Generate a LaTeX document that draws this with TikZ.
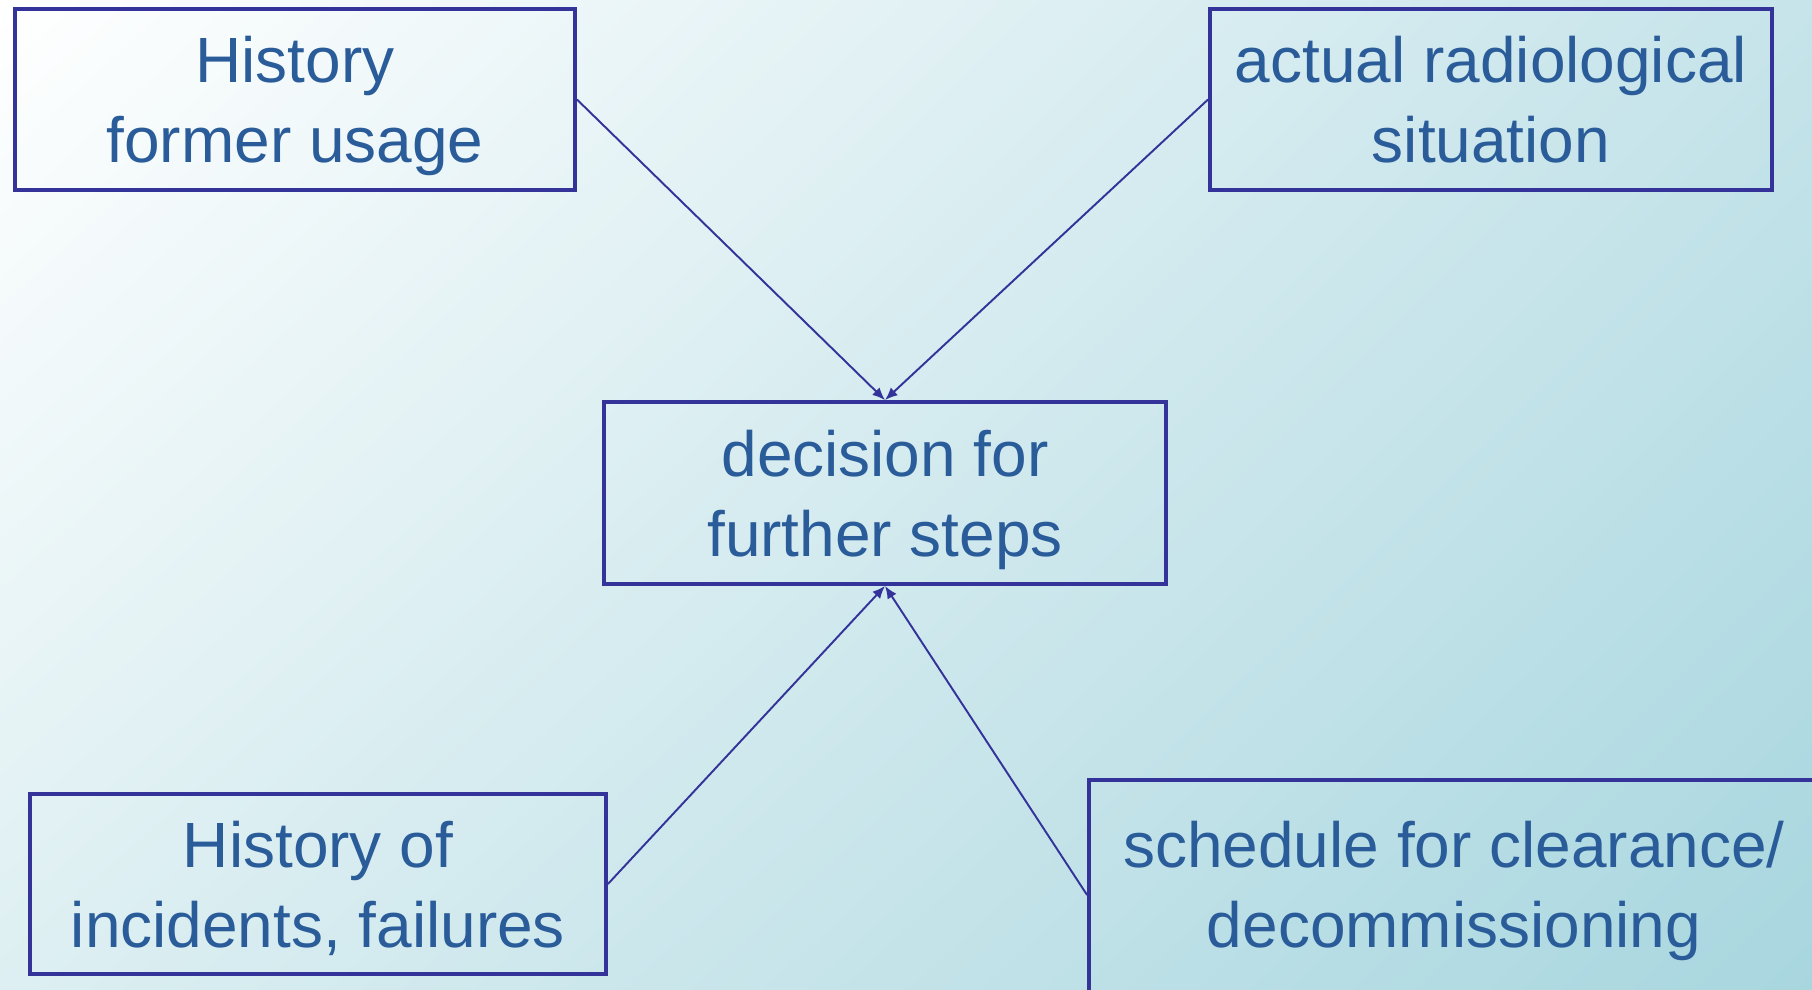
\documentclass[tikz,border=0pt]{standalone}
\usepackage{fontspec}
\setmainfont{Liberation Sans}
\usetikzlibrary{positioning}
\usetikzlibrary{arrows.meta}
\usetikzlibrary{shadings}
\definecolor{boxline}{HTML}{333399}
\definecolor{boxtext}{HTML}{2A5C9A}
\definecolor{bgUL}{HTML}{FFFFFF}
\definecolor{bgUR}{HTML}{C6E4EA}
\definecolor{bgLL}{HTML}{DDEFF2}
\definecolor{bgLR}{HTML}{A8D6DF}

\begin{document}
\begin{tikzpicture} [main/.style = {draw=boxline, line width=1.1pt, text=boxtext, align=center,
        font=\fontsize{18.2}{22.8}\selectfont, text depth=0pt, minimum width=5.6cm, minimum height=1.81cm, inner sep=0pt},
    link/.style = {draw=boxline, line width=0.55pt, -{Latex[length=3.6pt, width=3pt]}}]
        \useasboundingbox (0,0) rectangle (18.12,9.90);
        %Hintergrund
        \shade[upper left=bgUL, upper right=bgUR, lower left=bgLL, lower right=bgLR] (0,0) rectangle (18.12,9.90);

        %Knoten
        \node[main] (hist) at (2.95,8.905) {History\\former usage};
        \node[main, minimum width=5.62cm] (rad) at (14.91,8.905) {actual radiological\\situation};
        \node[main, minimum width=5.62cm, minimum height=1.82cm] (dec) at (8.85,4.97) {decision for\\further steps};
        \node[main, minimum width=5.76cm, minimum height=1.80cm] (inc) at (3.18,1.06) {History of\\incidents, failures};
        \node[main, minimum width=7.3cm, minimum height=2.3cm, text depth=0.22cm] (sched) at (14.54,0.95) {schedule for clearance/\\decommissioning};

        %Kanten
        \draw[link] (hist.east) -- (dec.north);
        \draw[link] (rad.west) -- (dec.north);
        \draw[link] (inc.east) -- (dec.south);
        \draw[link] (sched.west) -- (dec.south);
\end{tikzpicture}
\end{document}
